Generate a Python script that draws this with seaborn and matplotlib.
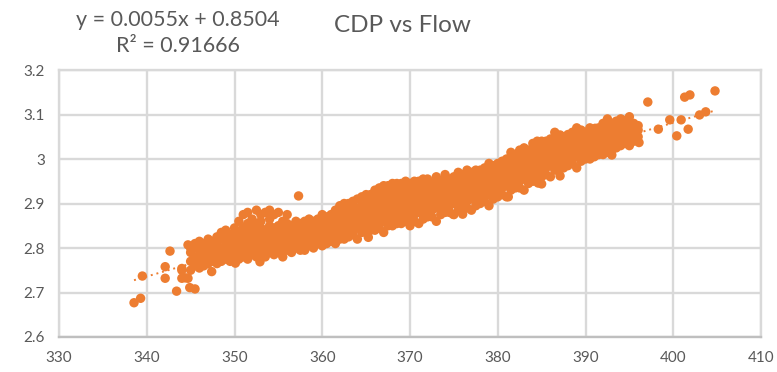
import matplotlib
matplotlib.use("Agg")
import matplotlib.pyplot as plt
import seaborn as sns
import pandas as pd

# ---- data ----
# dense band, segment 1 (flow columns, and the CDP values seen in each column)
seg1_flow = [345.0, 345.5, 346.0, 346.5, 347.0, 347.5, 348.0, 348.5, 349.0, 349.5,
             350.0, 350.5, 351.0, 351.5, 352.0, 352.5, 353.0, 353.5, 354.0, 354.5,
             355.0, 355.5, 356.0, 356.5, 357.0, 357.5, 358.0, 358.5]
seg1_cdp = [
    [2.75, 2.77, 2.79, 2.80],
    [2.76, 2.78, 2.80, 2.81],
    [2.755, 2.77, 2.785, 2.80, 2.815],
    [2.76, 2.78, 2.79, 2.81],
    [2.765, 2.78, 2.795, 2.81, 2.82],
    [2.77, 2.785, 2.80, 2.815],
    [2.765, 2.78, 2.795, 2.81, 2.825],
    [2.77, 2.785, 2.80, 2.82, 2.835],
    [2.775, 2.79, 2.805, 2.82, 2.84],
    [2.77, 2.785, 2.80, 2.815, 2.83],
    [2.78, 2.795, 2.81, 2.825, 2.845],
    [2.775, 2.79, 2.805, 2.82, 2.835, 2.86],
    [2.78, 2.795, 2.81, 2.83, 2.845, 2.875],
    [2.775, 2.79, 2.805, 2.82, 2.84, 2.855, 2.88],
    [2.785, 2.80, 2.815, 2.83, 2.85, 2.865],
    [2.78, 2.795, 2.81, 2.825, 2.84, 2.855, 2.885],
    [2.785, 2.80, 2.815, 2.83, 2.845, 2.86, 2.875],
    [2.78, 2.795, 2.81, 2.825, 2.84, 2.88],
    [2.79, 2.805, 2.82, 2.835, 2.85, 2.865, 2.885],
    [2.785, 2.80, 2.815, 2.83, 2.845, 2.875],
    [2.79, 2.805, 2.82, 2.835, 2.85, 2.88],
    [2.78, 2.80, 2.815, 2.83, 2.845, 2.86],
    [2.795, 2.81, 2.825, 2.84, 2.855, 2.875],
    [2.79, 2.805, 2.82, 2.835, 2.85],
    [2.80, 2.815, 2.83, 2.845, 2.86],
    [2.795, 2.81, 2.825, 2.84, 2.855],
    [2.795, 2.815, 2.83, 2.845, 2.86],
    [2.805, 2.82, 2.835, 2.85, 2.865],
]

# dense band, segment 2
seg2_flow = [359.0, 359.5, 360.0, 360.5, 361.0, 361.5, 362.0, 362.5, 363.0, 363.5,
             364.0, 364.5, 365.0, 365.5, 366.0, 366.5, 367.0, 367.5, 368.0, 368.5,
             369.0, 369.5, 370.0, 370.5, 371.0, 371.5, 372.0, 372.5, 373.0, 373.5,
             374.0, 374.5, 375.0, 375.5, 376.0, 376.5]
seg2_cdp = [
    [2.80, 2.815, 2.83, 2.845, 2.86],
    [2.81, 2.825, 2.84, 2.855, 2.865],
    [2.805, 2.82, 2.835, 2.85, 2.865, 2.875],
    [2.81, 2.825, 2.84, 2.855, 2.87],
    [2.815, 2.83, 2.845, 2.86, 2.875],
    [2.81, 2.83, 2.845, 2.86, 2.875, 2.885],
    [2.82, 2.835, 2.85, 2.865, 2.88, 2.895],
    [2.82, 2.835, 2.85, 2.865, 2.88, 2.90],
    [2.825, 2.84, 2.855, 2.87, 2.885, 2.90],
    [2.83, 2.845, 2.86, 2.875, 2.89, 2.905],
    [2.82, 2.845, 2.86, 2.875, 2.89, 2.91],
    [2.835, 2.85, 2.865, 2.88, 2.895, 2.915],
    [2.835, 2.85, 2.865, 2.88, 2.895, 2.91, 2.92],
    [2.84, 2.855, 2.87, 2.885, 2.90, 2.92],
    [2.84, 2.855, 2.87, 2.885, 2.90, 2.915, 2.93],
    [2.845, 2.86, 2.875, 2.89, 2.905, 2.92, 2.935],
    [2.835, 2.86, 2.875, 2.89, 2.905, 2.92, 2.94],
    [2.85, 2.865, 2.88, 2.895, 2.91, 2.925, 2.94],
    [2.85, 2.865, 2.88, 2.895, 2.91, 2.925, 2.945],
    [2.855, 2.87, 2.885, 2.90, 2.915, 2.93, 2.945],
    [2.855, 2.87, 2.885, 2.90, 2.915, 2.93, 2.945],
    [2.86, 2.875, 2.89, 2.905, 2.92, 2.935, 2.95],
    [2.85, 2.87, 2.885, 2.90, 2.915, 2.93, 2.945],
    [2.86, 2.875, 2.89, 2.905, 2.92, 2.935, 2.95],
    [2.855, 2.88, 2.895, 2.91, 2.925, 2.94, 2.95],
    [2.865, 2.88, 2.895, 2.91, 2.925, 2.94, 2.955],
    [2.87, 2.885, 2.90, 2.915, 2.93, 2.945, 2.955],
    [2.87, 2.885, 2.90, 2.915, 2.93, 2.945],
    [2.86, 2.89, 2.905, 2.92, 2.935, 2.95, 2.96],
    [2.875, 2.89, 2.905, 2.92, 2.935, 2.95],
    [2.88, 2.895, 2.91, 2.925, 2.94, 2.955, 2.965],
    [2.88, 2.895, 2.91, 2.925, 2.94, 2.955],
    [2.875, 2.90, 2.915, 2.93, 2.945, 2.96],
    [2.885, 2.90, 2.915, 2.93, 2.945, 2.96, 2.97],
    [2.89, 2.905, 2.92, 2.935, 2.95, 2.965],
    [2.89, 2.905, 2.92, 2.935, 2.95, 2.965, 2.975],
]

# dense band, segment 3
seg3_flow = [377.0, 377.5, 378.0, 378.5, 379.0, 379.5, 380.0, 380.5, 381.0, 381.5,
             382.0, 382.5, 383.0, 383.5, 384.0, 384.5, 385.0, 385.5, 386.0, 386.5,
             387.0, 387.5, 388.0, 388.5, 389.0, 389.5, 390.0, 390.5, 391.0, 391.5,
             392.0, 392.5, 393.0, 393.5, 394.0, 394.5, 395.0, 395.5, 396.0]
seg3_cdp = [
    [2.885, 2.91, 2.925, 2.94, 2.955, 2.97],
    [2.895, 2.91, 2.925, 2.94, 2.955, 2.97, 2.975],
    [2.90, 2.915, 2.93, 2.945, 2.96, 2.975],
    [2.905, 2.92, 2.935, 2.95, 2.965, 2.98],
    [2.895, 2.92, 2.935, 2.95, 2.965, 2.98, 2.99],
    [2.91, 2.925, 2.94, 2.955, 2.97, 2.985],
    [2.915, 2.93, 2.945, 2.96, 2.975, 2.99],
    [2.92, 2.935, 2.95, 2.965, 2.98, 2.995],
    [2.915, 2.94, 2.955, 2.97, 2.985, 3.00],
    [2.93, 2.945, 2.96, 2.975, 2.99, 3.005, 3.015],
    [2.935, 2.95, 2.965, 2.98, 2.995, 3.01],
    [2.935, 2.95, 2.965, 2.98, 2.995, 3.01, 3.02],
    [2.93, 2.955, 2.97, 2.985, 3.00, 3.015, 3.025],
    [2.945, 2.96, 2.975, 2.99, 3.005, 3.02],
    [2.95, 2.965, 2.98, 2.995, 3.01, 3.025, 3.035],
    [2.955, 2.97, 2.985, 3.00, 3.015, 3.03, 3.04],
    [2.96, 2.975, 2.99, 3.005, 3.02, 3.035, 3.04],
    [2.965, 2.98, 2.995, 3.01, 3.025, 3.04],
    [2.96, 2.985, 3.00, 3.015, 3.03, 3.045],
    [2.975, 2.99, 3.005, 3.02, 3.035, 3.045, 3.06],
    [2.975, 2.99, 3.005, 3.02, 3.035, 3.05],
    [2.98, 2.995, 3.01, 3.025, 3.04, 3.05],
    [2.985, 3.00, 3.015, 3.03, 3.045, 3.055],
    [2.99, 3.005, 3.02, 3.035, 3.05, 3.06],
    [2.98, 3.005, 3.02, 3.035, 3.05, 3.06, 3.07],
    [2.995, 3.01, 3.025, 3.04, 3.055, 3.065],
    [3.00, 3.015, 3.03, 3.045, 3.06],
    [3.00, 3.015, 3.03, 3.045, 3.06, 3.07],
    [3.005, 3.02, 3.035, 3.05, 3.065],
    [3.01, 3.025, 3.04, 3.055, 3.07],
    [3.01, 3.025, 3.04, 3.055, 3.07, 3.08],
    [3.015, 3.03, 3.045, 3.06, 3.075, 3.09],
    [3.02, 3.035, 3.05, 3.065, 3.08],
    [3.025, 3.04, 3.055, 3.07, 3.085],
    [3.03, 3.045, 3.06, 3.075, 3.09],
    [3.035, 3.05, 3.065, 3.08],
    [3.03, 3.045, 3.06, 3.075, 3.085, 3.095],
    [3.04, 3.055, 3.07, 3.08],
    [3.05, 3.065, 3.075],
]

# scattered single points around the band
out_flow = [338.55, 339.3, 339.5, 342.1, 342.1, 342.65, 343.4, 344.0, 344.4, 344.7,
            344.9, 345.5, 347.4, 350.1, 352.9, 357.3, 365.25, 374.9, 376.0, 381.2,
            384.6, 385.0, 387.1, 387.1, 388.9, 391.1, 393.0, 393.6, 394.1, 394.8,
            396.1, 397.1, 398.3, 399.6, 400.4, 400.9, 401.3, 401.7, 401.9, 403.0,
            403.7, 404.76, 344.0, 344.0, 344.7]
out_cdp = [2.677, 2.687, 2.737, 2.758, 2.732, 2.793, 2.703, 2.75, 2.733, 2.807,
           2.711, 2.708, 2.747, 2.766, 2.769, 2.917, 2.824, 2.876, 2.876, 2.915,
           2.946, 2.944, 2.962, 3.054, 3.059, 3.069, 3.009, 3.084, 3.089, 3.088,
           3.037, 3.128, 3.067, 3.088, 3.052, 3.088, 3.139, 3.067, 3.144, 3.099,
           3.106, 3.153, 2.754, 2.732, 2.732]

title_text = "CDP vs Flow"
eq_text = "y = 0.0055x + 0.8504"
r2_text = "R² = 0.91666"
x_ticks = [330, 340, 350, 360, 370, 380, 390, 400, 410]
y_ticks = [2.6, 2.7, 2.8, 2.9, 3.0, 3.1, 3.2]
y_tick_labels = ["2.6", "2.7", "2.8", "2.9", "3", "3.1", "3.2"]

# ---- build table ----
rows_flow, rows_cdp = [], []
for fl, cl in ((seg1_flow, seg1_cdp), (seg2_flow, seg2_cdp), (seg3_flow, seg3_cdp)):
    for xv, ys in zip(fl, cl):
        for yv in ys:
            rows_flow.append(xv)
            rows_cdp.append(yv)
rows_flow += out_flow
rows_cdp += out_cdp
df = pd.DataFrame({"Flow": rows_flow, "CDP": rows_cdp})

# ---- plot ----
sns.set_theme(style="white")
plt.rcParams["font.family"] = ["Lato", "DejaVu Sans"]

orange = "#ED7D31"
grid_c = "#D9D9D9"
txt_c = "#595959"

fig = plt.figure(figsize=(7.77, 3.72), dpi=100)
ax = fig.add_axes([59 / 777, 1 - 337 / 372, (761 - 59) / 777, (337 - 70) / 372])

sns.scatterplot(data=df, x="Flow", y="CDP", ax=ax, color=orange, s=46,
                edgecolor="none", linewidth=0, zorder=3, legend=False)
sns.regplot(data=df, x="Flow", y="CDP", ax=ax, scatter=False, ci=None,
            color=orange, line_kws=dict(ls=(0, (1, 2)), lw=1.4, zorder=4))

ax.set_xlim(330, 410)
ax.set_ylim(2.6, 3.2)
ax.set_xticks(x_ticks)
ax.set_yticks(y_ticks)
ax.set_yticklabels(y_tick_labels)
ax.set_xlabel("")
ax.set_ylabel("")
ax.grid(True, color=grid_c, lw=1.7)
ax.set_axisbelow(True)
for sp in ax.spines.values():
    sp.set_color(grid_c)
    sp.set_linewidth(1.7)
ax.spines["bottom"].set_color("#BFBFBF")
ax.tick_params(axis="both", length=0, labelsize=11, colors=txt_c, pad=10)

fig.text(402 / 777, 1 - 25 / 372, title_text, ha="center", va="center",
         fontsize=17.5, color=txt_c)
fig.text(178 / 777, 1 - 20 / 372, eq_text, ha="center", va="center",
         fontsize=15.5, color=txt_c)
fig.text(178 / 777, 1 - 46 / 372, r2_text, ha="center", va="center",
         fontsize=15.5, color=txt_c)

fig.savefig("out.png", dpi=100)
